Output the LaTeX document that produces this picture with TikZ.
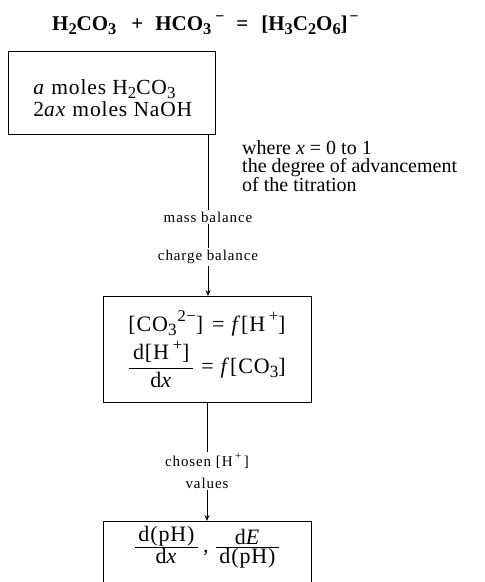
\documentclass[tikz,border=0pt]{standalone}
\usepackage{fontspec}
\usepackage{amsmath}
\setmainfont{Liberation Serif}
\newfontfamily\lblfont[LetterSpace=6]{Liberation Serif}
\newfontfamily\boxfont[LetterSpace=4]{Liberation Serif}
\usetikzlibrary{arrows.meta}
\newcommand{\sub}[1]{\raisebox{-0.2em}{\scalebox{0.78}{#1}}}
\newcommand{\sups}[1]{\raisebox{0.42em}{\scalebox{0.75}{#1}}}
\newcommand{\mfrac}[2]{$\dfrac{\mbox{\,#1\,}}{\mbox{\,#2\,}}$}
\newcommand{\tmfrac}[2]{$\textstyle\frac{\mbox{\,#1\,}}{\mbox{\,#2\,}}$}
\begin{document}
\begin{tikzpicture}[x=1pt,y=-1pt,
  box/.style={draw, line width=1pt, inner sep=0pt, font=\boxfont\fontsize{22}{20}\selectfont},
  lbl/.style={inner sep=1.5pt, align=center, font=\lblfont\fontsize{15}{22}\selectfont},
  conn/.style={line width=0.8pt},
  arr/.style={line width=0.8pt, -{Stealth[length=6pt,width=5pt]}}]
\useasboundingbox (0,0) rectangle (485,582);
\clip (0,0) rectangle (485,582);
\node[anchor=base west, inner sep=0pt, font=\bfseries\fontsize{21}{24}\selectfont] (title) at (52,30)
  {H\sub{2}CO\sub{3}\hspace{15pt}+\hspace{12pt}HCO\sub{3}\hspace{4pt}\sups{−}\hspace{12pt}=\hspace{13pt}[H\sub{3}C\sub{2}O\sub{6}]\hspace{2pt}\sups{−}};
\node[box, anchor=north west, minimum width=207pt, minimum height=83pt, align=left] (box1) at (8,51)
  {\parbox{200pt}{\vspace*{10pt}\raggedright\leftskip=21.5pt\boxfont\fontsize{21.5}{22.5}\selectfont \textit{a} moles H\sub{2}CO\sub{3}\\ 2\textit{ax} moles NaOH}};
\node[anchor=north west, inner sep=0pt, align=left, font=\fontsize{20}{18.5}\selectfont] (where) at (242,140)
  {where \textit{x} = 0 to 1\\ the degree of advancement\\ of the titration};
\node[lbl] (mb) at (208,217) {mass balance};
\node[lbl] (cb) at (208,257) {charge balance};
\node[box, anchor=north, minimum width=208pt, minimum height=106pt, align=center] (box2) at (207,296)
  {\raisebox{3pt}{[CO\sub{3}\hspace{1pt}\sups{2−}]\hspace{9pt}=\hspace{7pt}\textit{f}[H\,\sups{+}]}\\[4pt]
   \mfrac{d[H\,\sups{+}]}{d\textit{x}}\hspace{7pt}=\hspace{7pt}\textit{f}[CO\sub{3}]};
\node[lbl, font=\lblfont\fontsize{15}{22}\selectfont] (ch) at (207,471) {chosen [H\,\sups{+}\,]\\ values};
\node[box, anchor=north, minimum width=208pt, text depth=50pt, text height=31pt, align=center] (box3) at (207,521)
  {\tmfrac{d(pH)}{d\textit{x}}\,,\hspace{6pt}\tmfrac{d\textit{E}}{d(pH)}};
\draw[conn] (mb.north) -- (mb.north |- box1.south);
\draw[conn] (mb) -- (cb);
\draw[arr] (cb.south) -- (cb.south |- box2.north);
\draw[conn] (box2) -- (ch);
\draw[arr] (ch) -- (box3);
\end{tikzpicture}
\end{document}
